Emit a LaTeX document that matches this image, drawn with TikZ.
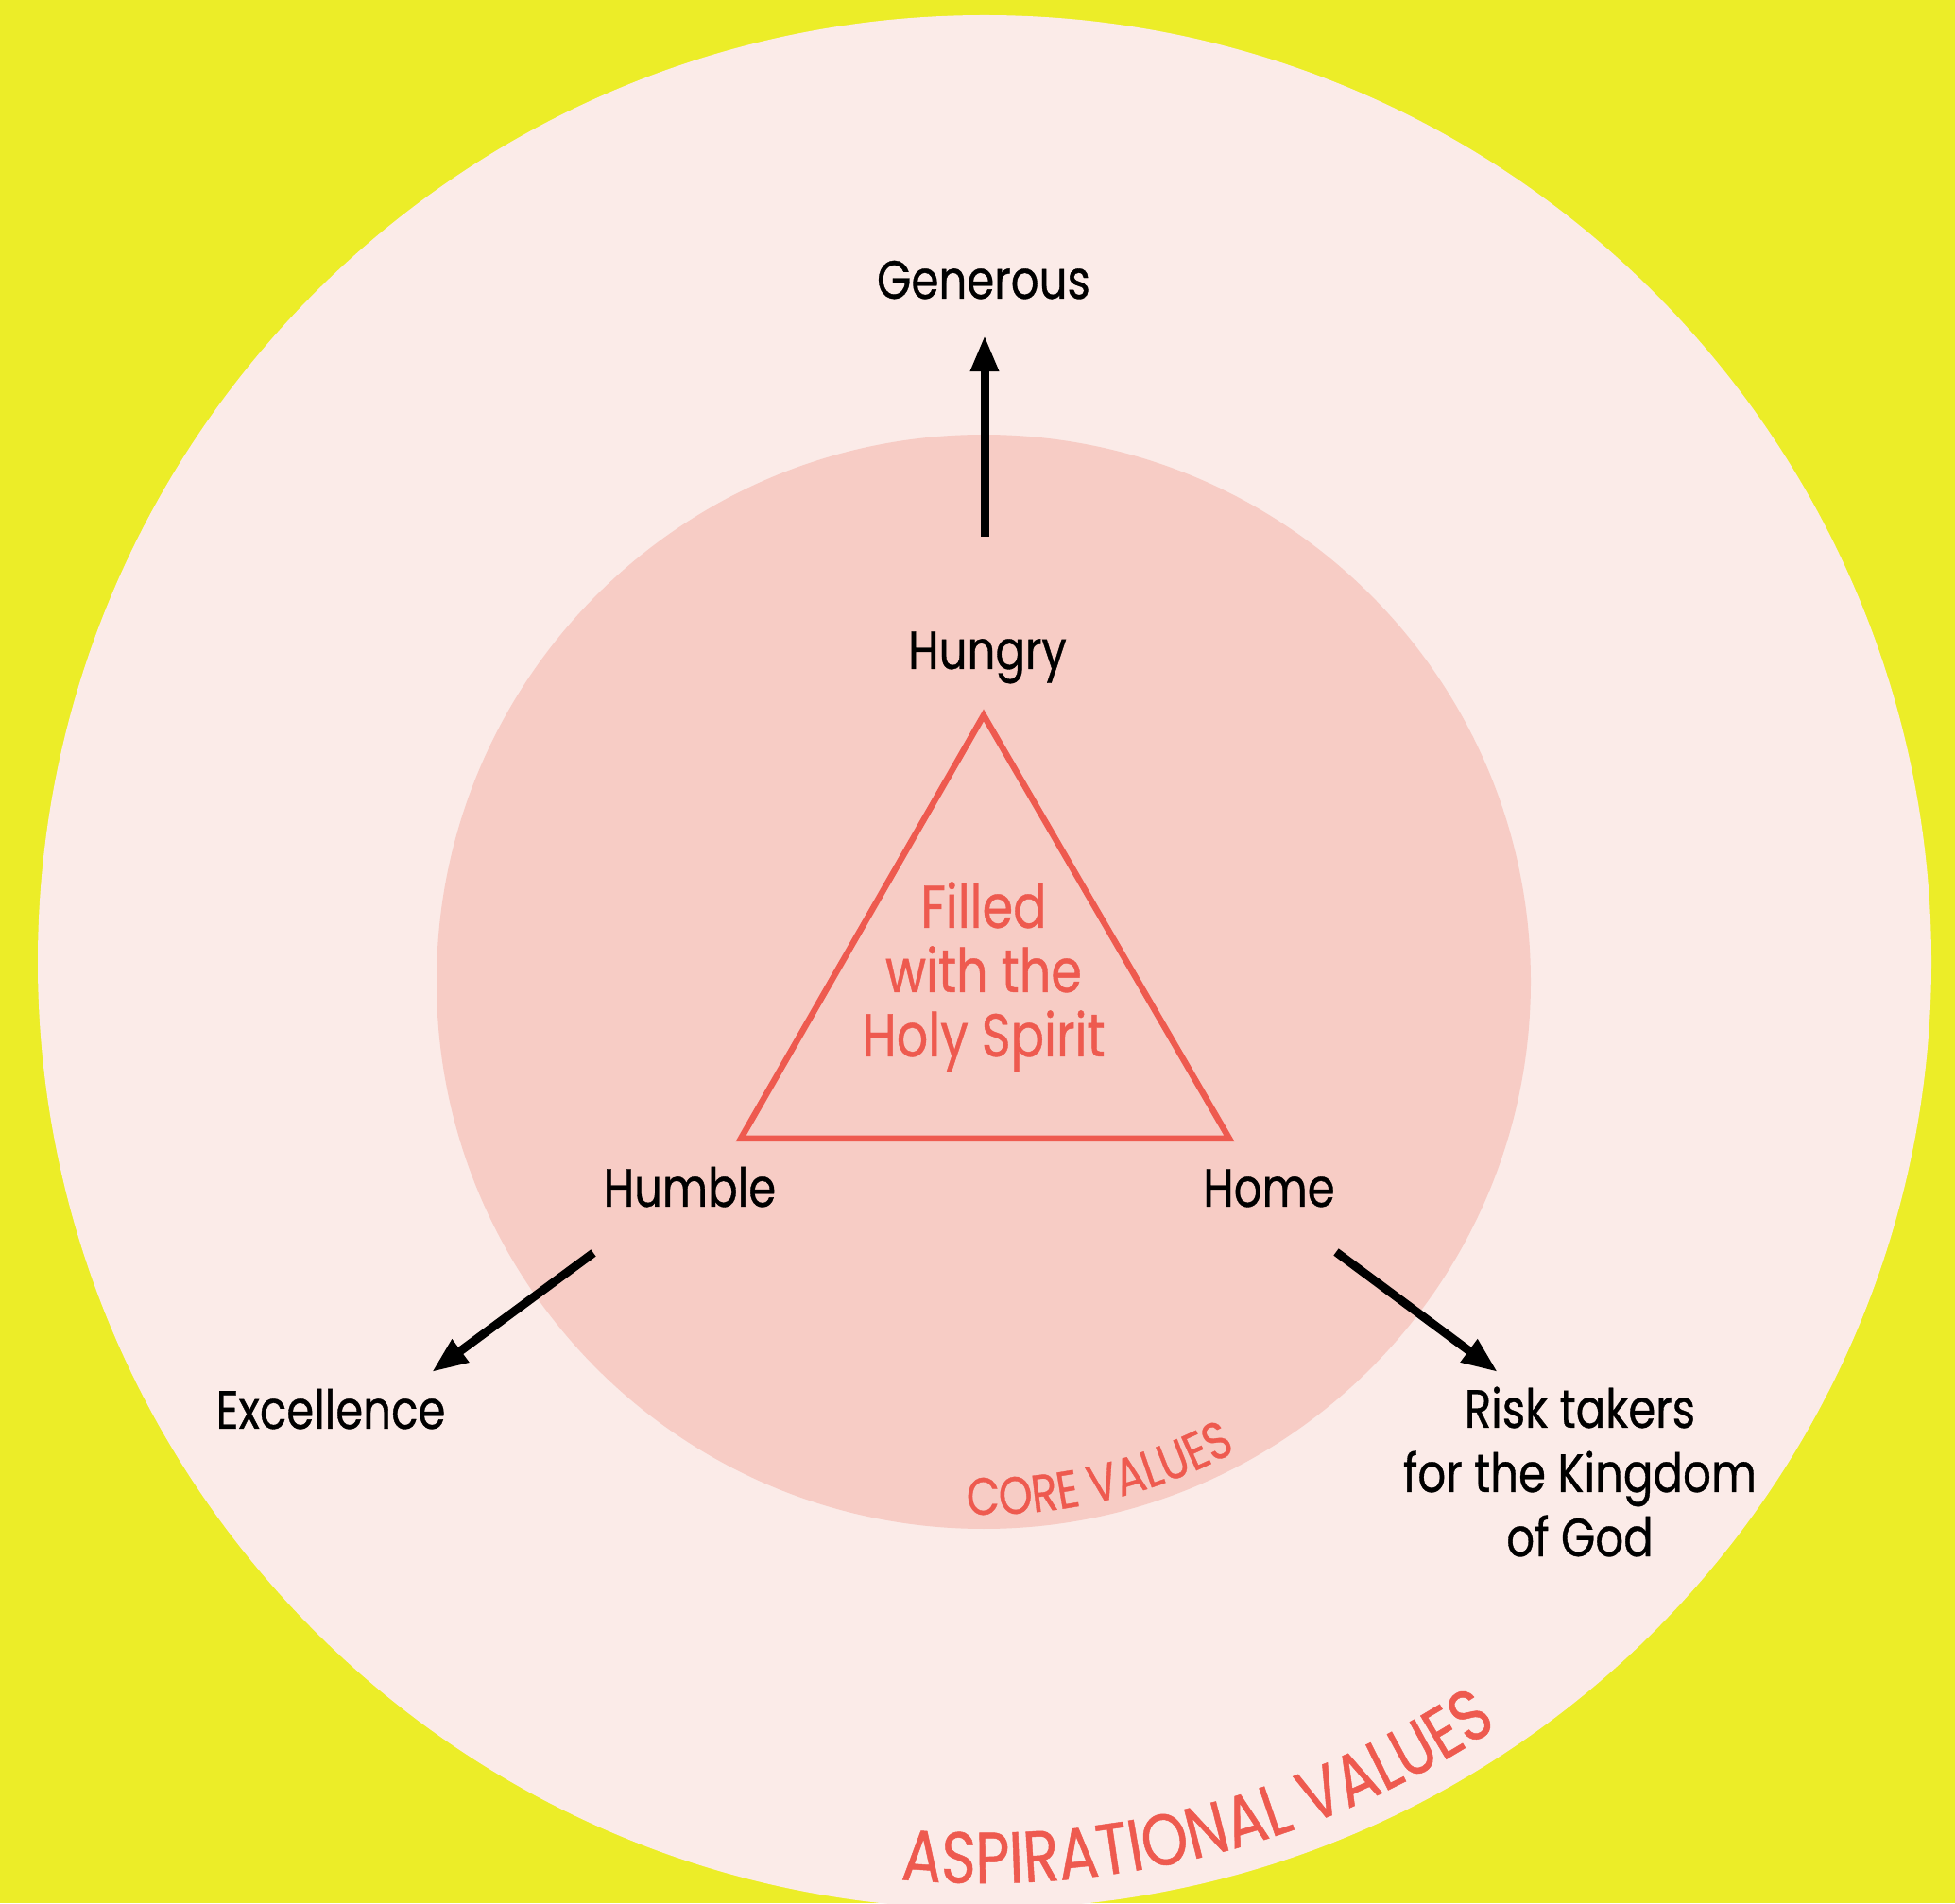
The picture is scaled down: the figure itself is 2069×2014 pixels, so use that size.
\documentclass[tikz,border=0pt]{standalone}
\usepackage{fontspec}
\setmainfont[FakeStretch=0.82,FakeBold=0.6]{Poppins}
\usetikzlibrary{arrows.meta,decorations.text}
\definecolor{paperyellow}{RGB}{236,237,40}
\definecolor{aspirepink}{RGB}{251,235,232}
\definecolor{corepink}{RGB}{247,204,197}
\definecolor{valuered}{RGB}{238,90,79}
\newcommand{\labelsize}{\fontsize{16.2pt}{19.35pt}\selectfont}
\newcommand{\spiritsize}{\fontsize{18.2pt}{19.35pt}\selectfont}
\newcommand{\coresize}{\fontsize{15.8pt}{18pt}\selectfont}
\newcommand{\aspiresize}{\fontsize{21.8pt}{24pt}\selectfont}
\begin{document}
\begin{tikzpicture}[x=0.01cm,y=0.01cm,value/.style={font=\labelsize,anchor=base,inner sep=0pt,align=center},growth/.style={-{Triangle[length=0.38cm,width=0.28cm]},line width=0.09cm},ring text/.style={decorate,decoration={text along path,text color=valuered,text align=center,text={#1}}}]
                \useasboundingbox (0,0) rectangle (2069,2014);
                \fill[paperyellow] (0,0) rectangle (2069,2014);
                \clip (0,0) rectangle (2069,2014);
                \fill[aspirepink] (1042,996) circle[radius=1002];
                \fill[corepink] (1041,975) circle[radius=579];
                \draw[valuered,line width=0.065cm,line join=miter] (1041,1257) -- (784,809) -- (1301,809) -- cycle;

                \node[value] (generous) at (1041,1698) {Generous};
                \node[value] (hungry) at (1045,1306) {Hungry};
                \node[value] (humble) at (730,737) {Humble};
                \node[value] (home) at (1343,737) {Home};
                \node[value] (excellence) at (350,502) {Excellence};
                \node[value] (risk) at (1672,367) {Risk takers\\for the Kingdom\\of God};
                \node[value,font=\spiritsize,text=valuered] (spirit) at (1041,896) {Filled\\with the\\Holy Spirit};

                \coordinate (hungry out) at (1042,1446);
                \coordinate (generous in) at (1042,1659);
                \coordinate (humble out) at (628,688);
                \coordinate (excellence in) at (457,562);
                \coordinate (home out) at (1414,689);
                \coordinate (risk in) at (1585,562);

                \path[growth]
                    (hungry out) edge (generous in)
                    (humble out) edge (excellence in)
                    (home out) edge (risk in)
                    ;

                \path[ring text={|\coresize|CORE VALUES}] (1041,975) ++(-110:564) arc[start angle=-110,end angle=-43.6,radius=564];
                \path[ring text={|\aspiresize|ASPIRATIONAL VALUES}] (1042,996) ++(-115:975) arc[start angle=-115,end angle=-36.4,radius=975];
            \end{tikzpicture}
\end{document}
